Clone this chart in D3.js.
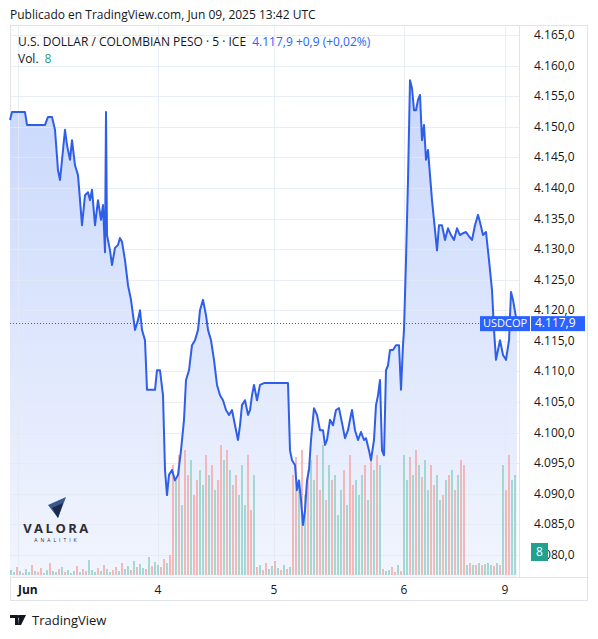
<!DOCTYPE html>
<html lang="en">
<head>
<script src="https://d3js.org/d3.v7.min.js"></script>
<style>
  body { margin: 0; background: #fff; font-family: "Open Sans", "Noto Sans", sans-serif; }
</style>
</head>
<body>
<script>
    // 5-min bars, x = bar number from the left edge of the chart
    var priceBars = [0,2,15,17,35,38,42,45,48,50,53,55,57,60,62,65,68,70,72,75,78,80,82,85,88,91,93,95,96,97,100,102,105,108,110,112,115,118,121,125,128,130,132,135,137,140,145,147,150,153,155,157,159,162,165,168,171,174,176,179,182,185,188,190,193,196,198,201,204,207,210,213,216,219,222,225,228,230,232,235,238,240,242,244,247,250,254,260,270,278,280,282,285,287,289,291,293,295,297,299,301,304,307,310,313,315,317,320,323,326,329,332,335,338,340,342,345,348,351,354,356,359,361,364,366,368,370,372,374,376,378,380,383,386,389,391,393,394,396,398,400,402,404,406,408,410,412,414,416,418,420,422,425,427,429,432,435,438,441,444,447,450,453,456,459,462,465,468,470,473,476,479,482,484,486,488,490,493,496,499,501,503,505,507];
    var prices = [4151.1,4152.4,4152.4,4150.3,4150.3,4151.6,4151.6,4149.5,4142.9,4141.3,4146.2,4149.5,4147.0,4144.6,4147.8,4143.7,4142.1,4138.0,4133.9,4138.8,4139.3,4138.0,4139.7,4133.9,4138.0,4134.8,4137.2,4129.5,4152.4,4132.3,4129.8,4127.4,4130.2,4130.7,4131.8,4131.2,4128.2,4124.1,4121.7,4116.8,4118.4,4120.0,4116.8,4115.1,4107.0,4107.0,4107.0,4110.2,4110.2,4106.1,4093.9,4089.8,4093.1,4093.9,4092.2,4093.1,4097.1,4102.1,4108.6,4110.2,4114.3,4115.1,4116.8,4120.0,4121.7,4119.2,4116.8,4115.1,4111.9,4107.8,4106.1,4105.3,4103.7,4102.9,4103.7,4101.2,4098.8,4101.2,4104.5,4105.3,4102.9,4103.7,4106.1,4107.8,4105.3,4107.8,4108.1,4108.1,4108.1,4108.1,4097.1,4095.5,4094.7,4090.6,4092.2,4089.0,4084.9,4087.3,4092.2,4093.9,4098.8,4104.0,4102.9,4100.4,4100.4,4098.0,4098.8,4102.1,4101.2,4103.7,4104.0,4101.6,4099.1,4100.4,4102.1,4103.7,4100.4,4098.8,4100.1,4098.8,4099.1,4097.1,4095.5,4098.8,4104.5,4106.1,4108.6,4097.1,4096.3,4110.2,4111.0,4113.5,4113.5,4114.3,4114.3,4107.0,4114.3,4116.8,4128.2,4141.3,4157.6,4156.3,4152.7,4152.7,4154.4,4155.2,4147.8,4150.3,4144.6,4146.2,4142.1,4138.0,4133.1,4129.8,4133.9,4133.9,4131.5,4133.4,4132.3,4131.5,4133.4,4132.3,4132.6,4132.8,4132.1,4131.5,4133.9,4135.6,4134.4,4132.3,4132.8,4128.2,4123.3,4116.8,4111.9,4113.5,4115.1,4112.7,4111.9,4115.1,4123.0,4121.7,4117.9];

    // volume, one bar every 3 bars
    var volumes = [5,3,8,4,2,6,3,10,4,3,7,2,5,12,4,3,6,8,3,5,2,4,9,3,6,4,15,5,3,7,4,10,6,3,5,8,4,12,6,9,5,14,8,11,7,6,18,9,13,10,8,16,12,20,
        110,95,120,70,125,100,115,80,95,105,90,120,100,110,85,95,130,115,125,105,90,100,80,110,70,120,65,100,
        8,10,5,12,6,9,14,7,5,10,6,8,
        100,118,90,125,80,105,115,95,120,85,130,75,110,95,100,60,85,105,70,120,90,95,80,100,110,75,115,105,120,110,
        6,4,5,8,3,10,4,
        120,95,118,100,125,110,98,115,85,110,90,100,75,80,95,100,105,85,100,115,110,
        10,12,10,10,12,10,11,12,10,9,12,10,
        110,85,120,95,100];
    var volUp = "ggrgrggrgrrggrggrgrgggrgrrgggrgrggrrgrggrgrggrgrggrrgrrgrgrrgrrggrgrgrrgrgrrgggrrgrgrrggrgrgrgrrgrgrggrrgrgrgggrgrrgggrgrgrgrggrrgrggrgrgrggrrggrgrgrgrrgrgrgrgggrgrgrrgg";

    var dayLabels = ["Jun", "4", "5", "6", "9"];
    var dayBars = [8, 148, 264, 394, 495];
    var priceTicks = [4080, 4085, 4090, 4095, 4100, 4105, 4110, 4115, 4120, 4125, 4130, 4135, 4140, 4145, 4150, 4155, 4160, 4165];
    var lastPrice = 4117.9;

    var W = 598, H = 639;
    var plotL = 10, plotR = 519, plotT = 25, plotB = 577;

    var fmt = function (v) {
        var s = v.toFixed(1).split(".");
        return s[0].slice(0, 1) + "." + s[0].slice(1) + "," + s[1];
    };

    var x = d3.scaleLinear().domain([0, 509]).range([plotL, plotR]);
    var y = d3.scaleLinear().domain([4080, 4165]).range([555, 35]);
    var yv = d3.scaleLinear().domain([0, 135]).range([575, 440]);

    var svg = d3.select("body").append("svg").attr("width", W).attr("height", H);

    var defs = svg.append("defs");
    var grad = defs.append("linearGradient").attr("id", "areafill")
        .attr("x1", 0).attr("x2", 0).attr("y1", 0).attr("y2", 1);
    grad.append("stop").attr("offset", "0").attr("stop-color", "rgb(200,215,252)");
    grad.append("stop").attr("offset", "1").attr("stop-color", "rgb(242,245,254)");

    // frame
    svg.append("rect").attr("x", 10.5).attr("y", 25.5).attr("width", 577).attr("height", 575)
        .attr("fill", "none").attr("stroke", "#e0e3eb");
    svg.append("line").attr("x1", plotR + 0.5).attr("x2", plotR + 0.5).attr("y1", plotT).attr("y2", plotB)
        .attr("stroke", "#e0e3eb");
    svg.append("line").attr("x1", plotL).attr("x2", 588).attr("y1", plotB + 0.5).attr("y2", plotB + 0.5)
        .attr("stroke", "#e0e3eb");

    // pair bars with prices; the last price is pinned to the last bar
    var n = Math.min(priceBars.length, prices.length);
    var pts = [];
    for (var i = 0; i < n - 1; i++) pts.push([priceBars[i], prices[i]]);
    pts.push([priceBars[priceBars.length - 1], prices[prices.length - 1]]);

    var line = d3.line().x(function (d) { return x(d[0]); }).y(function (d) { return y(d[1]); });
    var area = d3.area().x(function (d) { return x(d[0]); }).y0(plotB).y1(function (d) { return y(d[1]); });
    svg.append("path").attr("d", area(pts)).attr("fill", "url(#areafill)");

    // grid
    svg.append("g").selectAll("line").data(priceTicks).enter().append("line")
        .attr("x1", plotL).attr("x2", plotR)
        .attr("y1", function (d) { return Math.round(y(d)) + 0.5; })
        .attr("y2", function (d) { return Math.round(y(d)) + 0.5; })
        .attr("stroke", "#e3e8f2").attr("stroke-opacity", 0.8);
    svg.append("g").selectAll("line").data(dayBars).enter().append("line")
        .attr("x1", function (d) { return Math.round(x(d)) + 0.5; })
        .attr("x2", function (d) { return Math.round(x(d)) + 0.5; })
        .attr("y1", plotT).attr("y2", plotB)
        .attr("stroke", "#e3e8f2").attr("stroke-opacity", 0.8);

    // volume
    svg.append("g").selectAll("rect").data(volumes).enter().append("rect")
        .attr("x", function (d, i) { return x(i * 3 + 1) - 0.75; })
        .attr("width", 1.5)
        .attr("y", function (d) { return yv(d); })
        .attr("height", function (d) { return yv(0) - yv(d); })
        .attr("fill", function (d, i) { return volUp[i] === "r" ? "#f4a5a3" : "#8ad0c4"; });

    svg.append("path").attr("d", line(pts))
        .attr("fill", "none").attr("stroke", "#2f5ee8").attr("stroke-width", 2).attr("stroke-linejoin", "round");

    // last price line
    svg.append("line").attr("x1", plotL).attr("x2", plotR)
        .attr("y1", Math.round(y(lastPrice)) + 0.5).attr("y2", Math.round(y(lastPrice)) + 0.5)
        .attr("stroke", "#2962ff").attr("stroke-dasharray", "1,2");

    // price axis
    svg.append("g").selectAll("text").data(priceTicks).enter().append("text")
        .attr("x", 534).attr("y", function (d) { return y(d) + 4; })
        .attr("font-size", 12).attr("fill", "#131722")
        .text(function (d) { return fmt(d); });

    svg.append("rect").attr("x", 480).attr("y", y(lastPrice) - 7).attr("width", 50).attr("height", 15)
        .attr("fill", "#2962ff");
    svg.append("text").attr("x", 505).attr("y", y(lastPrice) + 4).attr("text-anchor", "middle")
        .attr("font-size", 11).attr("fill", "#fff").text("USDCOP");
    svg.append("rect").attr("x", 531).attr("y", y(lastPrice) - 7).attr("width", 54).attr("height", 15)
        .attr("fill", "#2962ff");
    svg.append("text").attr("x", 535).attr("y", y(lastPrice) + 4)
        .attr("font-size", 12).attr("fill", "#fff").text(fmt(lastPrice));

    svg.append("rect").attr("x", 531).attr("y", 543).attr("width", 17).attr("height", 18).attr("fill", "#22a18f");
    svg.append("text").attr("x", 539.5).attr("y", 556).attr("text-anchor", "middle")
        .attr("font-size", 12).attr("fill", "#fff").text("8");

    // time axis
    svg.append("g").selectAll("text").data(dayLabels).enter().append("text")
        .attr("x", function (d, i) { return x(dayBars[i]); })
        .attr("y", 594)
        .attr("text-anchor", function (d, i) { return i === 0 ? "start" : "middle"; })
        .attr("font-size", 12).attr("font-weight", function (d, i) { return i === 0 ? "bold" : "normal"; })
        .attr("fill", "#131722")
        .text(function (d) { return d; });

    // header
    svg.append("text").attr("x", 10).attr("y", 19).attr("font-size", 12).attr("fill", "#131722")
        .text("Publicado en TradingView.com, Jun 09, 2025 13:42 UTC");
    var t1 = svg.append("text").attr("x", 18).attr("y", 46).attr("font-size", 12).attr("fill", "#131722");
    t1.append("tspan").text("U.S. DOLLAR / COLOMBIAN PESO · 5 · ICE ");
    t1.append("tspan").attr("fill", "#2962ff").attr("dx", 3).text("4.117,9  +0,9 (+0,02%)");
    var t2 = svg.append("text").attr("x", 18).attr("y", 63).attr("font-size", 12).attr("fill", "#131722");
    t2.append("tspan").text("Vol.");
    t2.append("tspan").attr("fill", "#22a18f").attr("dx", 6).text("8");

    // logo
    var logo = svg.append("g");
    logo.append("path").attr("d", "M48,505 L66,497 L58,518 Z").attr("fill", "#3a5890");
    logo.append("path").attr("d", "M52,508 L63,503 L58,518 Z").attr("fill", "#1b2a4a");
    logo.append("text").attr("x", 57).attr("y", 533).attr("text-anchor", "middle")
        .attr("font-size", 13).attr("font-weight", "bold").attr("letter-spacing", 2.5).attr("fill", "#2a2d35").text("VALORA");
    logo.append("text").attr("x", 57).attr("y", 542).attr("text-anchor", "middle")
        .attr("font-size", 5).attr("letter-spacing", 3).attr("fill", "#2a2d35").text("ANALITIK");

    // footer
    svg.append("path").attr("d", "M10,615 h8 v10 h-3 v-7 h-5 z M19,615 h7 l-5,10 h-3 z").attr("fill", "#131722");
    svg.append("circle").attr("cx", 19).attr("cy", 616.5).attr("r", 1.5).attr("fill", "#131722");
    svg.append("text").attr("x", 32).attr("y", 625).attr("font-size", 13).attr("fill", "#131722").text("TradingView");
</script>
</body>
</html>
